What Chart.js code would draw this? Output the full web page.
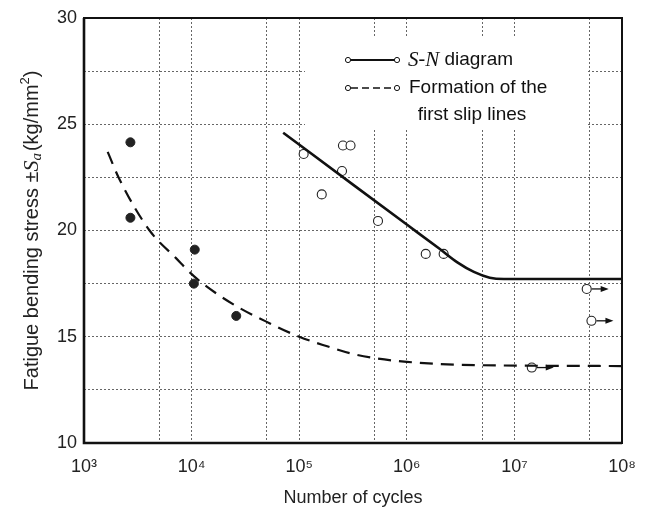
<!DOCTYPE html>
<html>
<head>
<meta charset="utf-8">
<script src="https://cdn.jsdelivr.net/npm/chart.js@4/dist/chart.umd.min.js"></script>
<style>
  html, body { margin: 0; padding: 0; background: #fff; }
  #wrap { width: 646px; height: 513px; position: relative; }
</style>
</head>
<body>
<div id="wrap"><canvas id="c" width="646" height="513"></canvas></div>
<script>
// ---- data ----
const cycleGridTicks = [1e3, 5e3, 1e4, 5e4, 1e5, 5e5, 1e6, 5e6, 1e7, 5e7, 1e8];
const cycleLabels = {1000: '10³', 10000: '10⁴', 100000: '10⁵', 1000000: '10⁶', 10000000: '10⁷', 100000000: '10⁸'};
const stressTicks = [10, 12.5, 15, 17.5, 20, 22.5, 25, 27.5, 30];

// S-N diagram curve
const snCurveN = [7.1e4, 3.16e5, 1.0e6, 2.0e6, 2.95e6, 4.2e6, 5.9e6, 8.0e6, 1.0e8];
const snCurveS = [24.6, 22.16, 20.28, 19.15, 18.5, 18.05, 17.78, 17.72, 17.72];

// formation of first slip lines curve (dashed)
const slipCurveN = [1.66e3, 2.14e3, 4.07e3, 7.16e3, 1.05e4, 1.74e4, 2.8e4, 5.0e4, 1.0e5, 1.82e5, 3.09e5, 5.25e5, 1.0e6, 3.16e6, 1.0e8];
const slipCurveS = [23.7, 22.4, 20.0, 18.7, 17.85, 17.0, 16.35, 15.7, 15.0, 14.55, 14.2, 13.98, 13.82, 13.68, 13.62];

// filled points (first slip lines)
const slipPointsN = [2.7e3, 2.7e3, 1.07e4, 1.05e4, 2.6e4];
const slipPointsS = [24.15, 20.6, 19.1, 17.5, 15.98];

// open points (S-N, broken)
const snPointsN = [1.1e5, 1.62e5, 2.5e5, 2.55e5, 3.0e5, 5.4e5, 1.5e6, 2.2e6];
const snPointsS = [23.6, 21.7, 22.8, 24.0, 24.0, 20.45, 18.9, 18.9];

// open points, run-outs (not broken)
const runoutN = [4.7e7, 5.2e7, 1.45e7];
const runoutS = [17.25, 15.75, 13.55];

const zip = (xs, ys) => xs.map((x, i) => ({x: x, y: ys[i]}));

const SANS = "'Liberation Sans', Arial, sans-serif";
const SERIF = "'Liberation Serif', 'Times New Roman', serif";

const framePlugin = {
  id: 'frame',
  beforeDatasetsDraw(chart) {
    const ctx = chart.ctx;
    // legend box (white, hides grid)
    const bx = 305, by = 38, bw = 283, bh = 90;
    ctx.save();
    ctx.fillStyle = '#fff';
    ctx.fillRect(bx, by, bw, bh);
    ctx.strokeStyle = '#111';
    const y1 = 60, y2 = 88, y3 = 115;
    ctx.lineWidth = 2;
    ctx.setLineDash([]);
    ctx.beginPath(); ctx.moveTo(350, y1); ctx.lineTo(395, y1); ctx.stroke();
    ctx.lineWidth = 1.6;
    ctx.setLineDash([7, 4]);
    ctx.beginPath(); ctx.moveTo(351, y2); ctx.lineTo(395, y2); ctx.stroke();
    ctx.setLineDash([]);
    ctx.lineWidth = 1;
    [[348, y1], [397, y1], [348, y2], [397, y2]].forEach(p => {
      ctx.beginPath(); ctx.arc(p[0], p[1], 2.6, 0, Math.PI * 2);
      ctx.fillStyle = '#fff'; ctx.fill(); ctx.stroke();
    });
    ctx.fillStyle = '#111';
    ctx.textBaseline = 'middle';
    ctx.textAlign = 'left';
    ctx.font = 'italic 21px ' + SERIF;
    ctx.fillText('S', 408, y1);
    let w = ctx.measureText('S').width;
    ctx.font = '20px ' + SERIF;
    ctx.fillText('-', 408 + w, y1);
    w += ctx.measureText('-').width;
    ctx.font = 'italic 21px ' + SERIF;
    ctx.fillText('N', 408 + w, y1);
    w += ctx.measureText('N').width;
    ctx.font = '19px ' + SANS;
    ctx.fillText(' diagram', 408 + w, y1);
    ctx.fillText('Formation of the', 409, y2);
    ctx.textAlign = 'center';
    ctx.fillText('first slip lines', 472, y3);
    ctx.restore();
  },
  afterDatasetsDraw(chart) {
    const ctx = chart.ctx;
    const meta = chart.getDatasetMeta(4);
    ctx.save();
    ctx.strokeStyle = '#111';
    ctx.fillStyle = '#111';
    ctx.lineWidth = 1.3;
    meta.data.forEach(pt => {
      const x = pt.x, y = pt.y;
      ctx.beginPath(); ctx.moveTo(x + 5, y); ctx.lineTo(x + 16, y); ctx.stroke();
      ctx.beginPath(); ctx.moveTo(x + 22, y); ctx.lineTo(x + 14, y - 3); ctx.lineTo(x + 14, y + 3); ctx.closePath(); ctx.fill();
    });
    ctx.restore();
  },
  afterDraw(chart) {
    const ctx = chart.ctx, a = chart.chartArea;
    ctx.save();
    ctx.strokeStyle = '#111';
    ctx.lineWidth = 2;
    ctx.strokeRect(a.left, a.top, a.right - a.left, a.bottom - a.top);
    ctx.lineWidth = 2.6;
    ctx.beginPath();
    ctx.moveTo(a.left, a.top); ctx.lineTo(a.left, a.bottom); ctx.lineTo(a.right, a.bottom);
    ctx.stroke();
    // y axis title
    const cy = (a.top + a.bottom) / 2;
    ctx.translate(32, cy);
    ctx.rotate(-Math.PI / 2);
    ctx.fillStyle = '#222';
    ctx.textBaseline = 'middle';
    ctx.textAlign = 'left';
    const parts = [
      {t: 'Fatigue bending stress ±', f: '20px ' + SANS, dy: 0},
      {t: 'S', f: 'italic 22px ' + SERIF, dy: 0},
      {t: 'a', f: 'italic 15px ' + SERIF, dy: 5},
      {t: '(kg/mm', f: '20px ' + SANS, dy: 0},
      {t: '2', f: '13px ' + SANS, dy: -7},
      {t: ')', f: '20px ' + SANS, dy: 0}
    ];
    let total = 0;
    parts.forEach(p => { ctx.font = p.f; p.w = ctx.measureText(p.t).width; total += p.w; });
    total += 2;
    let x = -total / 2;
    parts.forEach((p, i) => {
      ctx.font = p.f;
      ctx.fillText(p.t, x, p.dy);
      x += p.w + (i === 2 ? 2 : 0);
    });
    ctx.restore();
  }
};

new Chart(document.getElementById('c'), {
  type: 'scatter',
  data: {
    datasets: [
      {
        label: 'S-N diagram',
        data: zip(snCurveN, snCurveS),
        showLine: true, borderColor: '#111', borderWidth: 2.6,
        pointRadius: 0, cubicInterpolationMode: 'monotone', fill: false
      },
      {
        label: 'Formation of the first slip lines',
        data: zip(slipCurveN, slipCurveS),
        showLine: true, borderColor: '#111', borderWidth: 2.2, borderDash: [13, 8],
        pointRadius: 0, cubicInterpolationMode: 'monotone', fill: false
      },
      {
        label: 'slip points',
        data: zip(slipPointsN, slipPointsS),
        pointRadius: 4.5, pointBackgroundColor: '#222', pointBorderColor: '#222', pointBorderWidth: 1
      },
      {
        label: 'S-N points',
        data: zip(snPointsN, snPointsS),
        pointRadius: 4.5, pointBackgroundColor: '#fff', pointBorderColor: '#222', pointBorderWidth: 1.1
      },
      {
        label: 'run-outs',
        data: zip(runoutN, runoutS),
        pointRadius: 4.5, pointBackgroundColor: '#fff', pointBorderColor: '#222', pointBorderWidth: 1.1
      }
    ]
  },
  options: {
    responsive: false,
    animation: false,
    layout: { padding: { top: 18, right: 24, left: 0, bottom: 0 } },
    plugins: { legend: { display: false }, tooltip: { enabled: false } },
    scales: {
      x: {
        type: 'logarithmic',
        min: 1e3, max: 1e8,
        afterBuildTicks: s => { s.ticks = cycleGridTicks.map(v => ({value: v})); },
        afterFit: s => { s.height = 70; s.paddingLeft = 0; s.paddingRight = 0; },
        grid: { color: '#666', lineWidth: 1, drawTicks: false },
        border: { display: false, dash: [2, 2] },
        ticks: {
          autoSkip: false, maxRotation: 0, padding: 13,
          color: '#222', font: { family: SANS, size: 18 },
          callback: v => cycleLabels[v] || ''
        },
        title: {
          display: true, text: 'Number of cycles',
          color: '#222', font: { family: SANS, size: 18 },
          padding: { top: 0, bottom: 4 }
        }
      },
      y: {
        min: 10, max: 30,
        afterBuildTicks: s => { s.ticks = stressTicks.map(v => ({value: v})); },
        afterFit: s => { s.width = 84; },
        grid: { color: '#666', lineWidth: 1, drawTicks: false },
        border: { display: false, dash: [2, 2] },
        ticks: {
          autoSkip: false, padding: 7,
          color: '#222', font: { family: SANS, size: 18 },
          callback: v => (v % 5 === 0 ? String(v) : '')
        }
      }
    }
  },
  plugins: [framePlugin]
});
</script>
</body>
</html>
